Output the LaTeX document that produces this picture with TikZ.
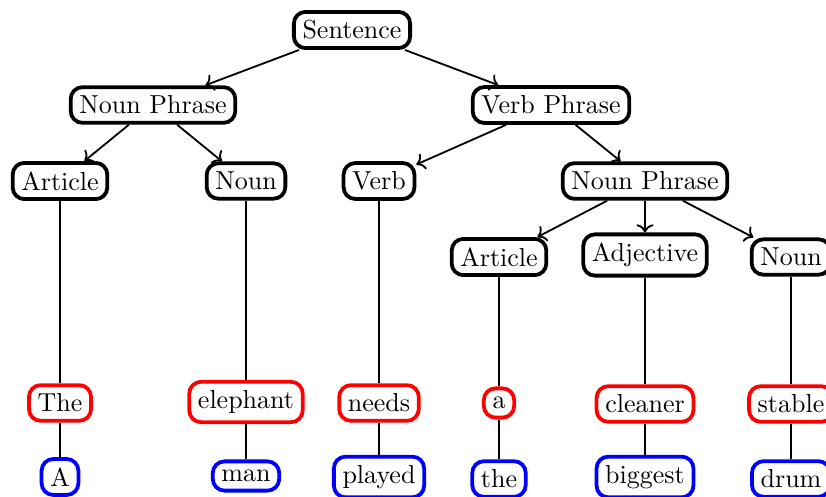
\documentclass[tikz,border=0pt]{standalone}
\usetikzlibrary{arrows.meta}
\begin{document}
\begin{tikzpicture}[x=0.3846pt,y=-0.3846pt,
  box/.style={draw,line width=1.45pt,rounded corners=4.5pt,fill=white,inner sep=3.33pt},
  wordA/.style={box,draw=red},
  wordB/.style={box,draw=blue},
  arr/.style={->,line width=0.7pt},
  ln/.style={line width=0.7pt}]
\useasboundingbox (0,0) rectangle (826,497);
\node[box] (s) at (352,30) {Sentence};
\node[box] (np1) at (153,105) {Noun Phrase};
\node[box] (vp) at (551,105) {Verb Phrase};
\node[box] (art1) at (60,181) {Article};
\node[box] (n1) at (246,181) {Noun};
\node[box] (v) at (379,181) {Verb};
\node[box] (np2) at (645,181) {Noun Phrase};
\node[box] (art2) at (499,257) {Article};
\node[box] (adj) at (645,255) {Adjective};
\node[box] (n2) at (791,257) {Noun};
\node[wordA] (w1) at (60,403) {The};
\node[wordA] (w2) at (246,402) {elephant};
\node[wordA] (w3) at (379,403) {needs};
\node[wordA] (w4) at (499,403) {a};
\node[wordA] (w5) at (645,404) {cleaner};
\node[wordA] (w6) at (791,404) {stable};
\node[wordB] (u1) at (60,477) {A};
\node[wordB] (u2) at (246,476) {man};
\node[wordB] (u3) at (379,477) {played};
\node[wordB] (u4) at (499,479) {the};
\node[wordB] (u5) at (645,477) {biggest};
\node[wordB] (u6) at (791,479) {drum};
\draw[arr] (s) -- (np1);
\draw[arr] (s) -- (vp);
\draw[arr] (np1) -- (art1);
\draw[arr] (np1) -- (n1);
\draw[arr] (vp) -- (v);
\draw[arr] (vp) -- (np2);
\draw[arr] (np2) -- (art2);
\draw[arr] (np2) -- (adj);
\draw[arr] (np2) -- (n2);
\draw[ln] (art1) -- (w1);
\draw[ln] (n1) -- (w2);
\draw[ln] (v) -- (w3);
\draw[ln] (art2) -- (w4);
\draw[ln] (adj) -- (w5);
\draw[ln] (n2) -- (w6);
\draw[ln] (w1) -- (u1);
\draw[ln] (w2) -- (u2);
\draw[ln] (w3) -- (u3);
\draw[ln] (w4) -- (u4);
\draw[ln] (w5) -- (u5);
\draw[ln] (w6) -- (u6);
\end{tikzpicture}
\end{document}
